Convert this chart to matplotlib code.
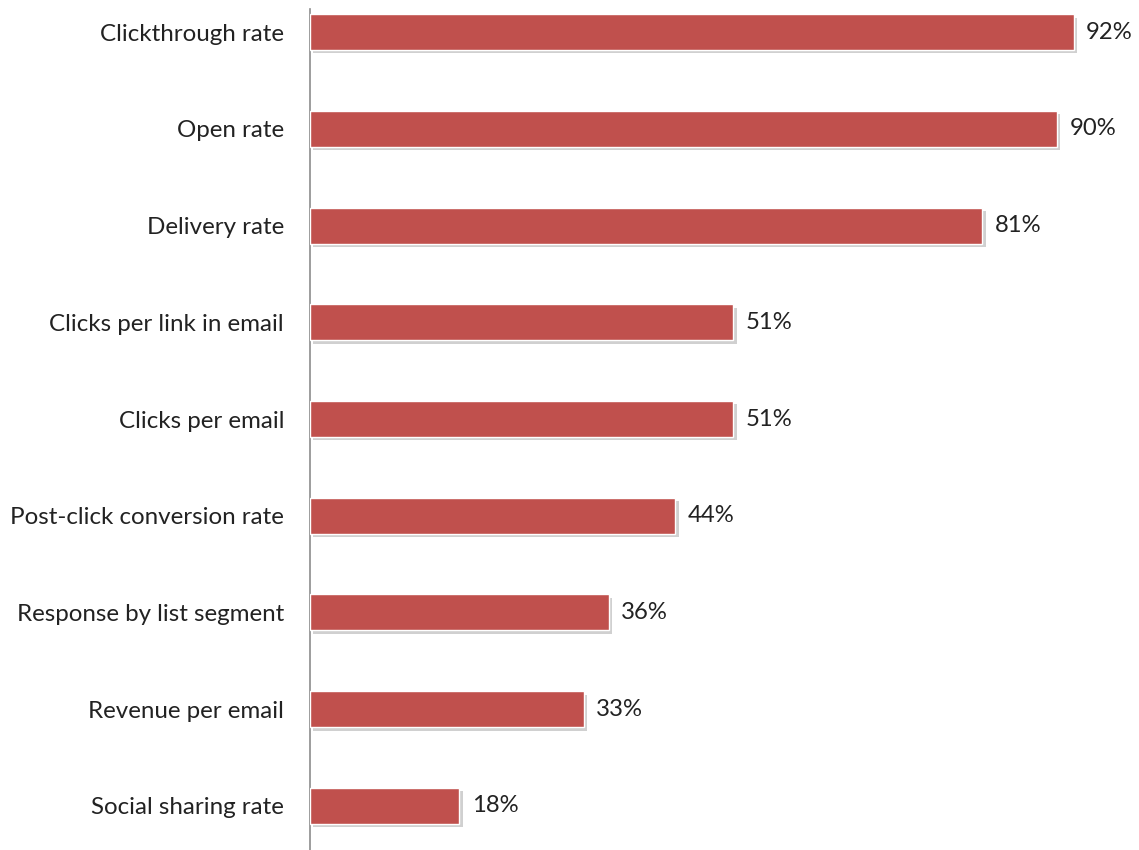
import matplotlib
matplotlib.use("Agg")
import matplotlib.pyplot as plt
import matplotlib.patheffects as pe

categories = [
    "Clickthrough rate",
    "Open rate",
    "Delivery rate",
    "Clicks per link in email",
    "Clicks per email",
    "Post-click conversion rate",
    "Response by list segment",
    "Revenue per email",
    "Social sharing rate",
]
values = [92, 90, 81, 51, 51, 44, 36, 33, 18]
value_labels = [f"{v}%" for v in values]

plt.rcParams["font.family"] = ["Lato", "DejaVu Sans"]

fig = plt.figure(figsize=(11.39, 8.5), dpi=100)
ax = fig.add_axes([310 / 1139, 0.0, 829 / 1139, 841 / 850])

bar_color = "#C0504D"
text_color = "#222222"
ypos = list(range(len(categories)))
bars = ax.barh(ypos, values, height=0.372, color=bar_color,
               edgecolor="white", linewidth=1.0, zorder=3)
for b in bars:
    b.set_path_effects([
        pe.SimplePatchShadow(offset=(2.5, -2.5), shadow_rgbFace="#8a8a8a", alpha=0.4),
        pe.Normal(),
    ])

for y, v, lab in zip(ypos, values, value_labels):
    ax.text(v + 1.5, y, lab, va="center", ha="left", fontsize=17.2,
            color=text_color, clip_on=False)

ax.set_xlim(0, 829 / 8.3)
ax.set_ylim(8.455, -0.238)
ax.set_yticks(ypos)
ax.set_yticklabels(categories, fontsize=17.4, color=text_color)
ax.tick_params(axis="y", length=0, pad=18.7)
ax.set_xticks([])

for side in ("top", "right", "bottom"):
    ax.spines[side].set_visible(False)
ax.spines["left"].set_color("#8c8c8c")
ax.spines["left"].set_linewidth(1.2)

fig.savefig("out.png", dpi=100, facecolor="white")
